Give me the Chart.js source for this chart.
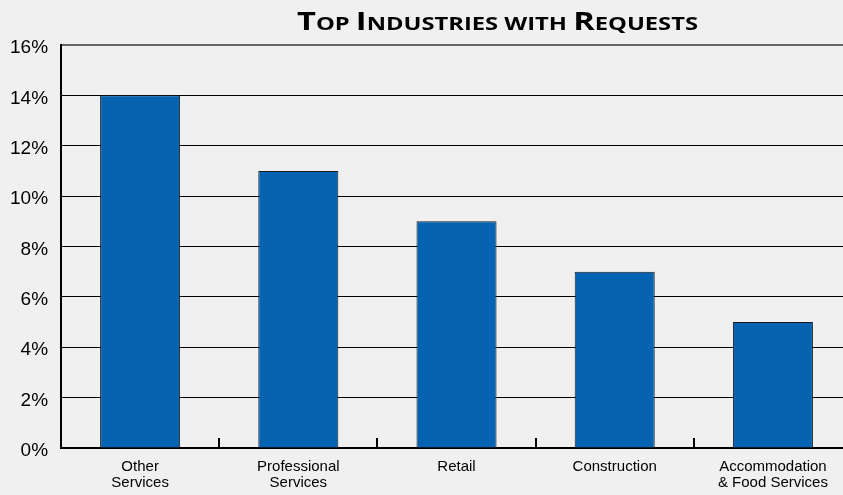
<!DOCTYPE html>
<html><head><meta charset="utf-8">
<script src="https://cdn.jsdelivr.net/npm/chart.js@4/dist/chart.umd.min.js"></script>
<style>html,body{margin:0;padding:0;background:#f0f0f0;overflow:hidden;width:843px;height:495px}canvas{display:block}</style>
</head><body>
<canvas id="c" width="852" height="495"></canvas>
<script>
const categories = [["Other","Services"],["Professional","Services"],["Retail"],["Construction"],["Accommodation","& Food Services"]];
const values = [14, 11, 9, 7, 5];
const yTicks = [0, 2, 4, 6, 8, 10, 12, 14, 16];
const titleText = 'Top Industries with Requests';

const bgPlugin = {id:'bg',beforeDraw(chart){const c=chart.ctx;c.save();c.fillStyle='#f0f0f0';c.fillRect(0,0,chart.width,chart.height);c.restore();}};

// small-caps title drawn as text
const scTitle = {id:'scTitle', afterDraw(chart){
  const c = chart.ctx; const big = 25, small = 18.2, fam = '"Open Sans", sans-serif';
  const words = titleText.split(' ');
  const runs = [];
  words.forEach((w, wi) => {
    const minor = (w === 'with');
    for (let i = 0; i < w.length; i++) {
      const isBig = !minor && i === 0;
      runs.push({t: w[i].toUpperCase(), s: isBig ? big : small});
    }
    if (wi < words.length - 1) runs.push({t: ' ', s: small});
  });
  c.save();
  let total = 0;
  runs.forEach(r => { c.font = `bold ${r.s}px ${fam}`; r.w = c.measureText(r.t).width; total += r.w; });
  const target = 401, cx = 497.5, base = 30;
  const sx = target / total;
  c.translate(cx - target/2, base); c.scale(sx, 1);
  c.fillStyle = '#000'; c.textBaseline = 'alphabetic'; c.textAlign = 'left';
  let x = 0;
  runs.forEach(r => { c.font = `bold ${r.s}px ${fam}`; c.fillText(r.t, x, 0); x += r.w; });
  c.restore();
}};

new Chart(document.getElementById('c'), {
  type: 'bar',
  data: { labels: categories, datasets: [{ data: values, backgroundColor: '#0563B1', borderColor: '#1a1a1a', borderWidth: 1, barPercentage: 0.506, categoryPercentage: 1 }] },
  options: {
    responsive: false, animation: false,
    layout: { padding: { left: -3, right: 0, top: 45, bottom: -17 } },
    plugins: { legend: { display: false }, tooltip: { enabled: false }, title: { display: false } },
    scales: {
      y: { min: 0, max: 16, afterBuildTicks(s){ s.ticks = yTicks.map(v=>({value:v})); },
        ticks: { color: '#000', font: { family: 'Liberation Sans', size: 19 }, padding: 13, labelOffset: 3, callback: v => v + '%' },
        grid: { color: (ctx)=> ctx.tick && ctx.tick.value===16 ? '#666' : '#000', lineWidth: (ctx)=> ctx.tick && ctx.tick.value===16 ? 2 : 1, drawTicks: false },
        border: { color: '#000', width: 2 } },
      x: { ticks: { color: '#000', font: { family: 'Liberation Sans', size: 15, lineHeight: 1.07 }, padding: 21, maxRotation: 0, autoSkip: false },
        grid: { offset: true, drawOnChartArea: false, tickLength: -10, color: '#000', lineWidth: 2 },
        border: { color: '#000', width: 2 } }
    }
  },
  plugins: [bgPlugin, scTitle]
});
</script></body></html>
